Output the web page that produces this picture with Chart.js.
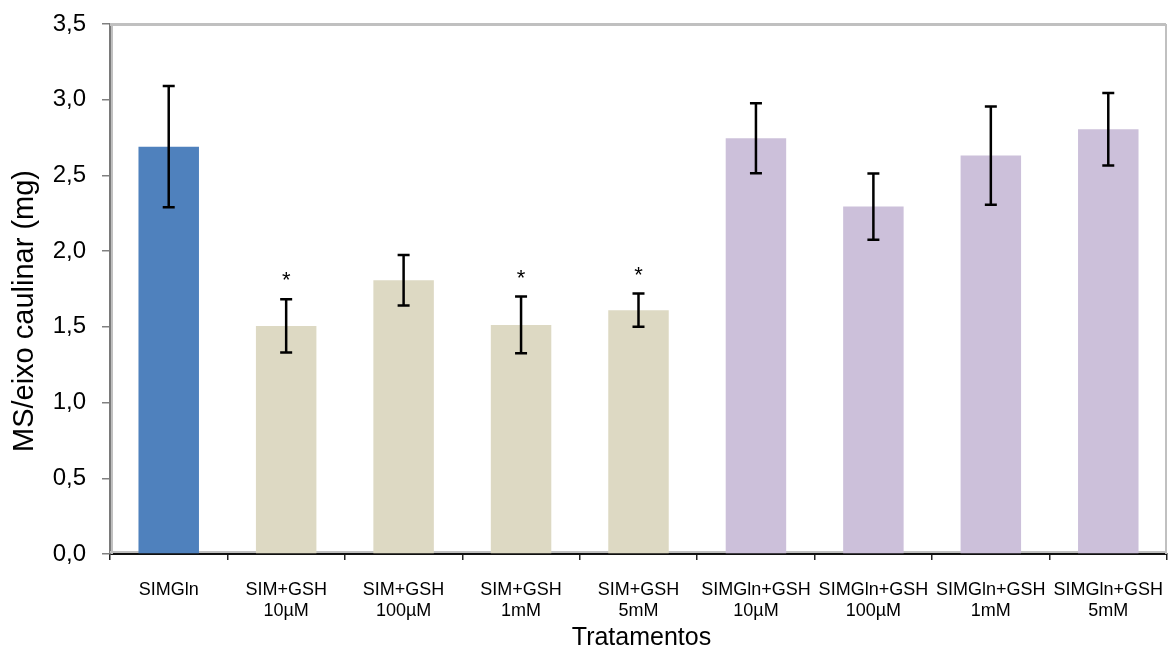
<!DOCTYPE html>
<html>
<head>
<meta charset="utf-8">
<script src="https://cdn.jsdelivr.net/npm/chart.js@4.4.1/dist/chart.umd.min.js"></script>
<style>
  html, body { margin: 0; padding: 0; background: #fff; }
  #wrap { width: 1168px; height: 650px; position: relative; }
</style>
</head>
<body>
<div id="wrap"><canvas id="c"></canvas></div>
<script>
// Shoot dry mass per treatment (mean ± error)
const categories = [
  ['SIMGln'],
  ['SIM+GSH', '10µM'],
  ['SIM+GSH', '100µM'],
  ['SIM+GSH', '1mM'],
  ['SIM+GSH', '5mM'],
  ['SIMGln+GSH', '10µM'],
  ['SIMGln+GSH', '100µM'],
  ['SIMGln+GSH', '1mM'],
  ['SIMGln+GSH', '5mM']
];
const means  = [2.69, 1.506, 1.808, 1.513, 1.610, 2.746, 2.294, 2.631, 2.805];
const errors = [0.40, 0.176, 0.167, 0.187, 0.110, 0.231, 0.219, 0.324, 0.240];
const marks  = ['', '*', '', '*', '*', '', '', '', ''];
const groups = ['control', 'sim', 'sim', 'sim', 'sim', 'gln', 'gln', 'gln', 'gln'];
const yTicks = [0, 0.5, 1.0, 1.5, 2.0, 2.5, 3.0, 3.5];
const xTitle = 'Tratamentos';
const yTitle = 'MS/eixo caulinar (mg)';

const groupColors = { control: '#4F81BD', sim: '#DDD9C3', gln: '#CCC0DA' };
const FONT = "'Liberation Sans', Arial, sans-serif";

// light grey plot frame under the axis lines
const frame = {
  id: 'frame',
  beforeDatasetsDraw(chart) {
    const { ctx, chartArea: a } = chart;
    ctx.save();
    ctx.strokeStyle = '#C0C0C0';
    ctx.lineWidth = 3;
    ctx.beginPath();
    ctx.moveTo(a.left, a.top + 0.5);
    ctx.lineTo(a.right - 1, a.top + 0.5);
    ctx.stroke();
    ctx.lineWidth = 2;
    ctx.beginPath();
    ctx.moveTo(a.right - 1, a.top);
    ctx.lineTo(a.right - 1, a.bottom);
    ctx.stroke();
    ctx.beginPath();
    ctx.moveTo(a.left + 2, a.top);
    ctx.lineTo(a.left + 2, a.bottom);
    ctx.moveTo(a.left, a.bottom - 2);
    ctx.lineTo(a.right, a.bottom - 2);
    ctx.stroke();
    ctx.restore();
  }
};

// axis titles
const titles = {
  id: 'titles',
  afterDraw(chart) {
    const { ctx, chartArea: a } = chart;
    ctx.save();
    ctx.fillStyle = '#000';
    ctx.textAlign = 'center';
    ctx.textBaseline = 'alphabetic';
    ctx.font = '25px ' + FONT;
    ctx.fillText(xTitle, (a.left + a.right) / 2 + 3, 645);
    ctx.translate(33, 311);
    ctx.rotate(-Math.PI / 2);
    ctx.font = '29px ' + FONT;
    ctx.fillText(yTitle, 0, 0);
    ctx.restore();
  }
};

const errorBars = {
  id: 'errorBars',
  afterDatasetsDraw(chart) {
    const { ctx } = chart;
    const y = chart.scales.y;
    const meta = chart.getDatasetMeta(0);
    ctx.save();
    ctx.strokeStyle = '#000';
    ctx.lineWidth = 2.5;
    meta.data.forEach((bar, i) => {
      const x = bar.x;
      const top = y.getPixelForValue(means[i] + errors[i]);
      const bot = y.getPixelForValue(means[i] - errors[i]);
      ctx.beginPath();
      ctx.moveTo(x, top);
      ctx.lineTo(x, bot);
      ctx.moveTo(x - 6, top);
      ctx.lineTo(x + 6, top);
      ctx.moveTo(x - 6, bot);
      ctx.lineTo(x + 6, bot);
      ctx.stroke();
      if (marks[i]) {
        ctx.fillStyle = '#000';
        ctx.font = '22px ' + FONT;
        ctx.textAlign = 'center';
        ctx.textBaseline = 'middle';
        ctx.fillText(marks[i], x, top - 18);
      }
    });
    ctx.restore();
  }
};

new Chart(document.getElementById('c'), {
  type: 'bar',
  data: {
    labels: categories,
    datasets: [{
      data: means,
      backgroundColor: groups.map(g => groupColors[g]),
      borderWidth: 0,
      barPercentage: 0.515,
      categoryPercentage: 1.0
    }]
  },
  options: {
    responsive: true,
    maintainAspectRatio: false,
    animation: false,
    devicePixelRatio: 1,
    layout: { padding: { top: 24, right: 1, left: 0, bottom: 0 } },
    plugins: { legend: { display: false }, tooltip: { enabled: false } },
    scales: {
      x: {
        grid: {
          offset: true,
          drawOnChartArea: false,
          drawTicks: true,
          tickLength: 6,
          color: '#222',
          lineWidth: 1.5
        },
        border: { display: true, color: '#111', width: 2 },
        ticks: {
          color: '#000',
          font: { family: FONT, size: 18 },
          padding: 19,
          maxRotation: 0,
          autoSkip: false
        },
        afterFit(scale) {
          scale.height = 96;
          scale.paddingLeft = 0;
          scale.paddingRight = 0;
        }
      },
      y: {
        min: 0,
        max: 3.5,
        afterBuildTicks(scale) { scale.ticks = yTicks.map(v => ({ value: v })); },
        grid: {
          drawOnChartArea: false,
          drawTicks: true,
          tickLength: 8,
          color: '#808080',
          lineWidth: 1.5
        },
        border: { display: true, color: '#7a7a7a', width: 2 },
        ticks: {
          color: '#000',
          font: { family: FONT, size: 24 },
          padding: 16,
          callback: v => Number(v).toFixed(1).replace('.', ',')
        },
        afterFit(scale) {
          scale.width = 110;
          scale.paddingTop = 0;
          scale.paddingBottom = 0;
        }
      }
    }
  },
  plugins: [frame, errorBars, titles]
});
</script>
</body>
</html>
